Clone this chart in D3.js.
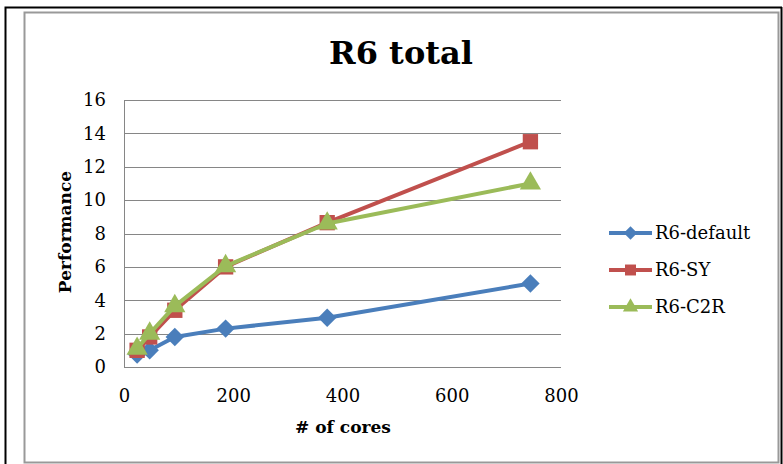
<!DOCTYPE html>
<html><head><meta charset="utf-8">
<script src="https://cdn.jsdelivr.net/npm/d3@7"></script>
<style>body{margin:0;background:#fff;}svg{display:block;}</style>
</head><body>
<script>
const cores = [24, 47, 93, 186, 372, 744];
const r6Default = [0.75, 1.0, 1.8, 2.3, 2.95, 5.0];
const r6SY = [1.0, 1.8, 3.4, 6.0, 8.65, 13.5];
const r6C2R = [1.1, 2.0, 3.65, 6.05, 8.6, 11.0];
const xTicks = [0, 200, 400, 600, 800];
const yTicks = [0, 2, 4, 6, 8, 10, 12, 14, 16];
const seriesNames = ["R6-default", "R6-SY", "R6-C2R"];
const seriesColors = ["#4A7EBB", "#C0504D", "#9BBB59"];
const seriesValues = [r6Default, r6SY, r6C2R];

const squareDiamond = {
  draw(ctx, size) {
    const r = Math.sqrt(size / 2);
    ctx.moveTo(0, -r); ctx.lineTo(r, 0); ctx.lineTo(0, r); ctx.lineTo(-r, 0); ctx.closePath();
  }
};
const seriesShapes = [squareDiamond, d3.symbolSquare, d3.symbolTriangle];
const markerSizes = [170, 235, 195];
const legendSizes = [90, 120, 100];

const W = 783, H = 464;
const svg = d3.select("body").append("svg").attr("width", W).attr("height", H);
svg.append("rect").attr("width", W).attr("height", H).attr("fill", "#fff");

// frames
svg.append("path").attr("d", "M5.5,464 V7.5 H782").attr("fill", "none").attr("stroke", "#000").attr("stroke-width", 2);
svg.append("line").attr("x1", 781.5).attr("x2", 781.5).attr("y1", 7).attr("y2", 464).attr("stroke", "#000").attr("stroke-width", 2);
svg.append("rect").attr("x", 24.5).attr("y", 12.5).attr("width", 754).attr("height", 450)
  .attr("fill", "#fff").attr("stroke", "#999").attr("stroke-width", 2);

const x = d3.scaleLinear().domain([0, 800]).range([124, 561]);
const y = d3.scaleLinear().domain([0, 16]).range([367, 100]);

// gridlines
svg.append("g").selectAll("line").data(yTicks).join("line")
  .attr("x1", x(0)).attr("x2", x(800))
  .attr("y1", d => Math.round(y(d)) + 0.5).attr("y2", d => Math.round(y(d)) + 0.5)
  .attr("stroke", "#868686").attr("stroke-width", 1);
svg.append("line").attr("x1", x(0) + 0.5).attr("x2", x(0) + 0.5).attr("y1", y(16)).attr("y2", y(0))
  .attr("stroke", "#868686").attr("stroke-width", 1);

// axes
const yAxis = svg.append("g").attr("transform", `translate(${x(0)},0)`)
  .call(d3.axisLeft(y).tickValues(yTicks).tickSize(0).tickPadding(18));
yAxis.select(".domain").remove();
yAxis.selectAll("text").attr("font-family", "DejaVu Serif").attr("font-size", 18).attr("fill", "#000");

const xAxis = svg.append("g").attr("transform", `translate(0,${y(0)})`)
  .call(d3.axisBottom(x).tickValues(xTicks).tickSize(0).tickPadding(22));
xAxis.select(".domain").remove();
xAxis.selectAll("text").attr("font-family", "DejaVu Serif").attr("font-size", 18).attr("fill", "#000");

// lines
const line = d3.line().x(d => x(d[0])).y(d => y(d[1]));
seriesValues.forEach((vals, i) => {
  const pts = cores.map((c, j) => [c, vals[j]]);
  svg.append("path").datum(pts).attr("d", line).attr("fill", "none")
    .attr("stroke", seriesColors[i]).attr("stroke-width", 4).attr("stroke-linejoin", "round");
  svg.append("g").selectAll("path").data(pts).join("path")
    .attr("transform", d => `translate(${x(d[0])},${y(d[1])})`)
    .attr("d", d3.symbol().type(seriesShapes[i]).size(markerSizes[i]))
    .attr("fill", seriesColors[i]);
});

// title
svg.append("text").attr("x", 401).attr("y", 64).attr("text-anchor", "middle")
  .attr("font-family", "DejaVu Serif").attr("font-weight", "bold").attr("font-size", 32)
  .text("R6 total");

// axis titles
svg.append("text").attr("x", 343).attr("y", 433).attr("text-anchor", "middle")
  .attr("font-family", "DejaVu Serif").attr("font-weight", "bold").attr("font-size", 17)
  .text("# of cores");
svg.append("text").attr("transform", "translate(71,232) rotate(-90)").attr("text-anchor", "middle")
  .attr("font-family", "DejaVu Serif").attr("font-weight", "bold").attr("font-size", 17)
  .text("Performance");

// legend
const legY = [233, 270, 307];
seriesNames.forEach((name, i) => {
  const g = svg.append("g").attr("transform", `translate(0,${legY[i]})`);
  g.append("line").attr("x1", 609).attr("x2", 652).attr("y1", 0).attr("y2", 0)
    .attr("stroke", seriesColors[i]).attr("stroke-width", 4);
  g.append("path").attr("transform", "translate(630.5,0)")
    .attr("d", d3.symbol().type(seriesShapes[i]).size(legendSizes[i]))
    .attr("fill", seriesColors[i]);
  g.append("text").attr("x", 655).attr("y", 6).attr("font-family", "DejaVu Serif")
    .attr("font-size", 18).text(name);
});
</script>
</body></html>
